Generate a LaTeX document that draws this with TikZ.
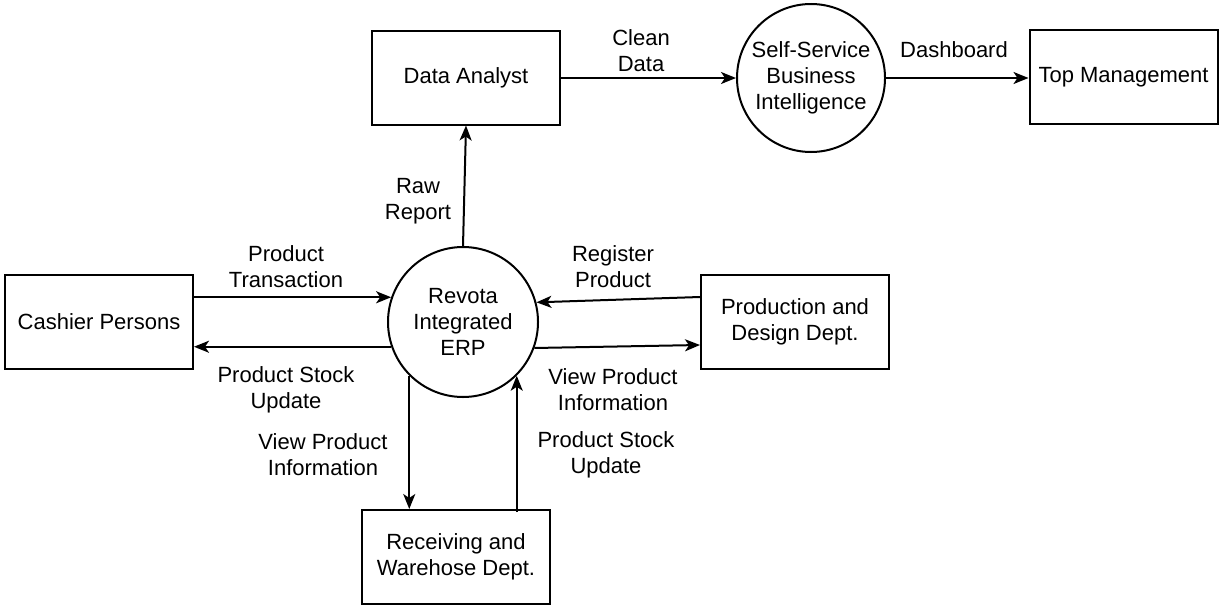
\documentclass[tikz,border=0pt]{standalone}
\usepackage{fontspec}
\setmainfont{Liberation Sans}
\usetikzlibrary{arrows.meta}
\begin{document}
\begin{tikzpicture}[x=1pt,y=-1pt,
  every node/.style={font=\fontsize{22}{26}\selectfont},
  entity/.style={draw,line width=2pt,minimum width=188pt,minimum height=94pt,inner sep=2pt,align=center},
  process/.style={draw,circle,line width=2pt,minimum size=150pt,inner sep=0pt,align=center},
  flowlabel/.style={inner sep=0pt,align=center},
  arr/.style={line width=2pt,-{Stealth[length=15pt,width=12pt,inset=4pt]}}]
\useasboundingbox (0,0) rectangle (1225,613);

% external entities
\node[entity] (da)   at (466,77.5)  {Data Analyst};
\node[entity] (top)  at (1123.5,77) {Top Management};
\node[entity] (cash) at (99,322)    {Cashier Persons};
\node[entity] (prod) at (795,322)   {Production and\\Design Dept.};
\node[entity] (recv) at (456,557)   {Receiving and\\Warehose Dept.};

% processes
\node[process,minimum size=148pt] (bi) at (811,78) {Self-Service\\Business\\Intelligence};
\node[process] (erp) at (463,322) {Revota\\Integrated\\ERP};

% data flows
\draw[arr] (da.east |- bi.west) -- (bi.west);
\draw[arr] (bi.east) -- (bi.east -| top.west);
\draw[arr] (erp.north) -- (da.south);
\draw[arr] (cash.east |- erp.161) -- (erp.161);
\draw[arr] (erp.199) -- (cash.east |- erp.199);
\draw[arr] ([yshift=25pt]prod.west) -- (erp.15);
\draw[arr] (erp.-20) -- ([yshift=-23pt]prod.west);
\draw[arr] (erp.225) -- (erp.225 |- recv.north);
\draw[arr] ([yshift=-3pt]recv.north -| erp.-45) -- (erp.-45);

% flow labels
\node[flowlabel] (l1) at (641,51)  {Clean\\Data};
\node[flowlabel] (l2) at (954,50)  {Dashboard};
\node[flowlabel] (l3) at (418,201) {Raw\\Report};
\node[flowlabel] (l4) at (286,267) {Product\\Transaction};
\node[flowlabel] (l5) at (286,390) {Product Stock\\Update};
\node[flowlabel] (l6) at (613,267) {Register\\Product};
\node[flowlabel] (l7) at (613,390) {View Product\\Information};
\node[flowlabel] (l8) at (323,455) {View Product\\Information};
\node[flowlabel] (l9) at (606,455) {Product Stock\\Update};
\end{tikzpicture}
\end{document}
